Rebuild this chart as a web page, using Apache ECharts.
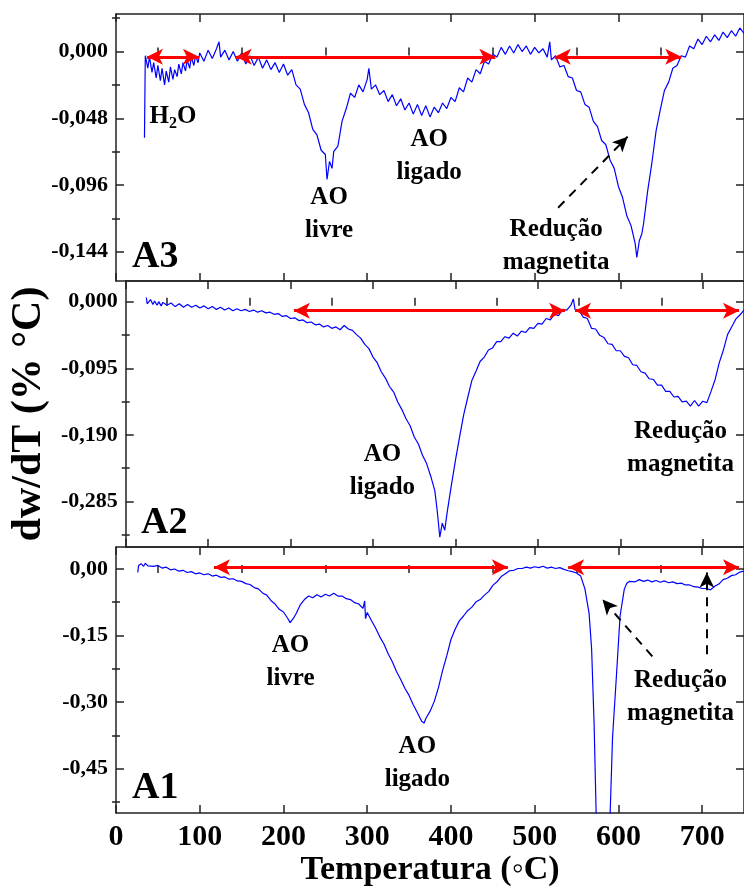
<!DOCTYPE html>
<html>
<head>
<meta charset="utf-8">
<script src="https://cdn.jsdelivr.net/npm/echarts@6/dist/echarts.min.js"></script>
<style>
html,body{margin:0;padding:0;background:#fff;}
#chart{width:744px;height:888px;}
</style>
</head>
<body>
<div id="chart"></div>
<script>
// ---------------- DATA (temperature °C, dw/dT %/°C) ----------------
const curveA3 = [[34,-0.062],[35,-0.003],[38,-0.012],[40,-0.004],[43,-0.015],[45,-0.008],[48,-0.019],[50,-0.010],[53,-0.021],[55,-0.012],[58,-0.024],[60,-0.014],[63,-0.022],[65,-0.011],[68,-0.020],[70,-0.013],[73,-0.018],[75,-0.009],[78,-0.016],[80,-0.008],[83,-0.014],[85,-0.006],[88,-0.012],[90,-0.004],[93,-0.010],[95,-0.003],[98,-0.008],[100,-0.001],[105,-0.007],[110,0.001],[115,-0.005],[120,0.002],[123,0.007],[125,-0.004],[130,0.001],[135,-0.006],[140,0.000],[145,-0.007],[150,-0.001],[155,-0.009],[160,-0.003],[165,-0.010],[170,-0.004],[175,-0.012],[180,-0.006],[185,-0.013],[190,-0.008],[195,-0.015],[200,-0.009],[205,-0.017],[210,-0.013],[215,-0.024],[220,-0.027],[225,-0.038],[230,-0.044],[235,-0.056],[240,-0.060],[245,-0.071],[250,-0.074],[252,-0.092],[255,-0.079],[258,-0.084],[260,-0.072],[265,-0.068],[270,-0.050],[275,-0.041],[280,-0.030],[285,-0.033],[290,-0.024],[295,-0.029],[300,-0.020],[302,-0.012],[305,-0.027],[310,-0.024],[315,-0.031],[320,-0.028],[325,-0.036],[330,-0.031],[335,-0.039],[340,-0.034],[345,-0.042],[350,-0.037],[355,-0.045],[360,-0.038],[365,-0.046],[370,-0.039],[375,-0.047],[380,-0.040],[385,-0.044],[390,-0.037],[395,-0.041],[400,-0.033],[405,-0.036],[410,-0.026],[415,-0.029],[420,-0.019],[425,-0.022],[430,-0.013],[435,-0.016],[440,-0.007],[445,-0.009],[450,-0.002],[455,-0.004],[460,0.003],[465,-0.002],[470,0.004],[475,-0.001],[480,0.005],[485,0.000],[490,0.004],[495,-0.002],[500,0.003],[505,-0.001],[510,0.002],[515,-0.004],[518,0.007],[520,-0.006],[525,-0.003],[530,-0.011],[535,-0.010],[540,-0.018],[545,-0.019],[550,-0.028],[555,-0.029],[560,-0.038],[565,-0.040],[570,-0.050],[575,-0.054],[580,-0.064],[585,-0.067],[590,-0.078],[595,-0.084],[600,-0.097],[605,-0.105],[610,-0.118],[615,-0.125],[620,-0.138],[622,-0.148],[625,-0.136],[628,-0.131],[630,-0.124],[635,-0.100],[640,-0.080],[645,-0.057],[650,-0.042],[655,-0.028],[660,-0.022],[665,-0.012],[670,-0.010],[675,-0.003],[680,-0.004],[685,0.004],[690,0.002],[695,0.009],[700,0.005],[705,0.011],[710,0.007],[715,0.012],[720,0.008],[725,0.014],[730,0.010],[735,0.015],[740,0.011],[745,0.017],[750,0.013]];

const curveA2 = [[25,0.006],[26,-0.003],[30,0.003],[33,-0.004],[35,0.001],[38,-0.005],[40,0.000],[43,-0.006],[45,-0.001],[50,-0.005],[55,-0.002],[60,-0.007],[65,-0.003],[70,-0.008],[75,-0.004],[80,-0.008],[85,-0.005],[90,-0.009],[95,-0.006],[100,-0.010],[105,-0.007],[110,-0.011],[115,-0.008],[120,-0.012],[125,-0.009],[130,-0.013],[135,-0.010],[140,-0.013],[145,-0.011],[150,-0.014],[155,-0.012],[160,-0.015],[165,-0.013],[170,-0.016],[175,-0.015],[180,-0.018],[185,-0.017],[190,-0.021],[195,-0.020],[200,-0.024],[205,-0.023],[210,-0.027],[215,-0.026],[220,-0.030],[225,-0.029],[230,-0.033],[235,-0.032],[240,-0.036],[245,-0.034],[250,-0.038],[255,-0.036],[260,-0.040],[265,-0.034],[270,-0.039],[275,-0.041],[280,-0.047],[285,-0.052],[290,-0.061],[295,-0.067],[300,-0.079],[305,-0.087],[310,-0.100],[315,-0.109],[320,-0.121],[325,-0.129],[330,-0.143],[335,-0.154],[340,-0.167],[345,-0.177],[350,-0.193],[355,-0.203],[360,-0.219],[365,-0.231],[370,-0.249],[375,-0.270],[378,-0.300],[381,-0.336],[384,-0.316],[387,-0.326],[390,-0.300],[395,-0.262],[400,-0.226],[405,-0.193],[410,-0.161],[415,-0.136],[420,-0.112],[425,-0.099],[430,-0.085],[435,-0.079],[440,-0.069],[445,-0.066],[450,-0.057],[455,-0.057],[460,-0.050],[465,-0.052],[470,-0.045],[475,-0.049],[480,-0.042],[485,-0.044],[490,-0.037],[495,-0.038],[500,-0.031],[505,-0.032],[510,-0.024],[515,-0.026],[520,-0.018],[525,-0.020],[530,-0.011],[535,-0.012],[540,-0.005],[543,0.004],[545,-0.011],[550,-0.013],[555,-0.022],[560,-0.024],[565,-0.038],[570,-0.039],[575,-0.048],[580,-0.051],[585,-0.060],[590,-0.061],[595,-0.070],[600,-0.070],[605,-0.078],[610,-0.080],[615,-0.090],[620,-0.091],[625,-0.100],[630,-0.102],[635,-0.110],[640,-0.111],[645,-0.119],[650,-0.119],[655,-0.128],[660,-0.128],[665,-0.136],[670,-0.135],[675,-0.143],[680,-0.142],[685,-0.149],[690,-0.141],[695,-0.149],[700,-0.142],[705,-0.144],[710,-0.128],[715,-0.111],[720,-0.087],[725,-0.069],[730,-0.047],[735,-0.036],[740,-0.025],[745,-0.019],[750,-0.012]];

const curveA1 = [[26,-0.008],[27,0.008],[30,0.012],[33,0.006],[35,0.013],[38,0.007],[40,0.011],[45,0.006],[50,0.008],[55,0.002],[60,0.004],[65,-0.002],[70,0.000],[75,-0.005],[80,-0.003],[85,-0.008],[90,-0.006],[95,-0.011],[100,-0.009],[105,-0.013],[110,-0.011],[115,-0.016],[120,-0.014],[125,-0.019],[130,-0.018],[135,-0.023],[140,-0.022],[145,-0.027],[150,-0.028],[155,-0.033],[160,-0.035],[165,-0.042],[170,-0.045],[175,-0.054],[180,-0.059],[185,-0.071],[190,-0.079],[195,-0.091],[200,-0.097],[205,-0.111],[208,-0.121],[212,-0.111],[215,-0.101],[220,-0.081],[225,-0.069],[230,-0.061],[235,-0.065],[240,-0.058],[245,-0.063],[250,-0.057],[255,-0.061],[260,-0.055],[265,-0.061],[270,-0.061],[275,-0.067],[280,-0.069],[285,-0.076],[290,-0.079],[295,-0.089],[297,-0.072],[298,-0.112],[300,-0.098],[305,-0.116],[310,-0.133],[315,-0.153],[320,-0.169],[325,-0.191],[330,-0.209],[335,-0.231],[340,-0.249],[345,-0.269],[350,-0.285],[355,-0.306],[360,-0.324],[365,-0.343],[368,-0.347],[370,-0.337],[375,-0.321],[380,-0.299],[385,-0.268],[390,-0.229],[395,-0.196],[400,-0.159],[405,-0.136],[410,-0.117],[415,-0.106],[420,-0.094],[425,-0.086],[430,-0.074],[435,-0.069],[440,-0.059],[445,-0.051],[450,-0.037],[455,-0.029],[460,-0.017],[465,-0.011],[470,-0.004],[475,-0.003],[480,0.001],[485,0.001],[490,0.004],[495,0.002],[500,0.005],[505,0.003],[510,0.006],[515,0.002],[520,0.004],[525,0.001],[530,0.003],[535,-0.001],[540,-0.004],[545,-0.006],[550,-0.009],[555,-0.016],[560,-0.045],[565,-0.100],[568,-0.180],[571,-0.350],[574,-0.600],[578,-0.900],[583,-1.000],[587,-0.800],[590,-0.560],[593,-0.380],[598,-0.230],[602,-0.106],[607,-0.046],[610,-0.032],[613,-0.028],[615,-0.025],[620,-0.029],[625,-0.024],[630,-0.028],[635,-0.025],[640,-0.029],[645,-0.026],[650,-0.030],[655,-0.027],[660,-0.031],[665,-0.029],[670,-0.033],[675,-0.032],[680,-0.036],[685,-0.036],[690,-0.040],[695,-0.041],[700,-0.044],[705,-0.044],[710,-0.047],[715,-0.039],[720,-0.034],[725,-0.024],[730,-0.021],[735,-0.015],[740,-0.013],[745,-0.007],[750,-0.005]];

// tick labels
const xTicks = [0,100,200,300,400,500,600,700];
const xMinorTicks = [50,150,250,350,450,550,650];
const yTicksA3 = [0,-0.048,-0.096,-0.144];
const yMinorA3 = [0.024,-0.024,-0.072,-0.120];
const yTicksA2 = [0,-0.095,-0.190,-0.285];
const yMinorA2 = [-0.0475,-0.1425,-0.2375,-0.3325];
const yTicksA1 = [0,-0.15,-0.30,-0.45];
const yMinorA1 = [-0.075,-0.225,-0.375,-0.525];

// annotation ranges (temperature spans of red double arrows)
const spansA3 = [[37,99],[143,453],[524,675]];
const spansA2 = [[204,533],[545,744]];
const spansA1 = [[117,468],[540,744]];

// ---------------- CHART ----------------
const FONT = '"Liberation Serif","Times New Roman",Times,serif';
const AXC = '#222';

const panels = [
  {name:'A3', data:curveA3, top:14,  h:267, min:-0.165, max:0.027, ticks:yTicksA3, minor:yMinorA3, dec:3,
   arrowY:-0.0038, spans:spansA3,
   dashed:[[[528,-0.1123],[611,-0.0612]]],
   notes:[
     {c:[68,-0.047], rich:true},
     {c:[254.5,-0.1166], t:'AO\nlivre'},
     {c:[374,-0.0749], t:'AO\nligado'},
     {c:[525.6,-0.1397], t:'Redução\nmagnetita'}
   ], tag:[46.8,-0.148]},
  {name:'A2', data:curveA2, top:281, h:266, min:-0.350, max:0.0295, ticks:yTicksA2, minor:yMinorA2, dec:3,
   arrowY:-0.0128, spans:spansA2, dashed:[],
   notes:[
     {c:[311.4,-0.2411], t:'AO\nligado'},
     {c:[673,-0.2084], t:'Redução\nmagnetita'}
   ], tag:[46.8,-0.3166]},
  {name:'A1', data:curveA1, top:547, h:267, min:-0.550, max:0.0495, ticks:yTicksA1, minor:yMinorA1, dec:2,
   arrowY:0.0036, spans:spansA1,
   dashed:[[[640.5,-0.197],[581,-0.069]], [[705.6,-0.192],[705.6,-0.008]]],
   notes:[
     {c:[208.4,-0.2107], t:'AO\nlivre'},
     {c:[359.9,-0.4379], t:'AO\nligado'},
     {c:[674.2,-0.2894], t:'Redução\nmagnetita'}
   ], tag:[46.8,-0.493]}
];

const grids = [], xAxes = [], yAxes = [], series = [];
const lineSt = {color:AXC, width:1.5};

panels.forEach((p, i) => {
  grids.push({left:116, width:633.5, top:p.top, height:p.h, containLabel:false});
  const last = i === panels.length - 1;
  const xb = {type:'value', gridIndex:i, min:0, max:750, splitLine:{show:false}, silent:true};
  xAxes.push(Object.assign({}, xb, {
    position:'bottom',
    axisLine:{show:true, onZero:false, lineStyle:lineSt},
    axisTick:{show:true, inside:true, length:8, customValues:xTicks, lineStyle:lineSt},
    axisLabel:{show:last, customValues:xTicks, margin:9, color:'#000', fontFamily:FONT, fontWeight:'bold', fontSize:30},
    name: last ? 'Temperatura (◦C)' : '',
    nameLocation:'middle', nameGap:40,
    nameTextStyle:{color:'#000', fontFamily:FONT, fontWeight:'bold', fontSize:34}
  }));
  xAxes.push(Object.assign({}, xb, {
    position:'bottom', axisLine:{show:false},
    axisTick:{show:true, inside:true, length:4, customValues:xMinorTicks, lineStyle:lineSt},
    axisLabel:{show:false}
  }));
  xAxes.push(Object.assign({}, xb, {
    position:'top',
    axisLine:{show:true, onZero:false, lineStyle:lineSt},
    axisTick:{show:true, inside:true, length:8, customValues:xTicks, lineStyle:lineSt},
    axisLabel:{show:false}
  }));
  xAxes.push(Object.assign({}, xb, {
    position:'top', axisLine:{show:false},
    axisTick:{show:true, inside:true, length:4, customValues:xMinorTicks, lineStyle:lineSt},
    axisLabel:{show:false}
  }));

  const yb = {type:'value', gridIndex:i, min:p.min, max:p.max, splitLine:{show:false}, silent:true};
  yAxes.push(Object.assign({}, yb, {
    position:'left',
    axisLine:{show:true, onZero:false, lineStyle:lineSt},
    axisTick:{show:true, inside:true, length:8, customValues:p.ticks, lineStyle:lineSt},
    axisLabel:{show:true, customValues:p.ticks, margin:8, color:'#000', fontFamily:FONT, fontWeight:'bold', fontSize:22,
      formatter:(v)=> (Math.abs(v) < 1e-9 ? 0 : v).toFixed(p.dec).replace('.', ',')},
    name: i === 1 ? 'dw/dT (% °C)' : '',
    nameLocation:'middle', nameRotate:90, nameGap:63,
    nameTextStyle:{color:'#000', fontFamily:FONT, fontWeight:'bold', fontSize:42}
  }));
  yAxes.push(Object.assign({}, yb, {
    position:'left', axisLine:{show:false},
    axisTick:{show:true, inside:true, length:4, customValues:p.minor, lineStyle:lineSt},
    axisLabel:{show:false}
  }));
  yAxes.push(Object.assign({}, yb, {
    position:'right',
    axisLine:{show:true, onZero:false, lineStyle:lineSt},
    axisTick:{show:true, inside:true, length:8, customValues:p.ticks, lineStyle:lineSt},
    axisLabel:{show:false}
  }));
  yAxes.push(Object.assign({}, yb, {
    position:'right', axisLine:{show:false},
    axisTick:{show:true, inside:true, length:4, customValues:p.minor, lineStyle:lineSt},
    axisLabel:{show:false}
  }));

  const textBase = {color:'#000', fontFamily:FONT, fontWeight:'bold', fontSize:25, lineHeight:33, align:'center'};
  const mpData = p.notes.map(n => {
    if (n.rich) {
      return {coord:n.c, label:{show:true, position:'inside', formatter:'{m|H}{s|2}{m|O}',
        rich:{m:{color:'#000', fontFamily:FONT, fontWeight:'bold', fontSize:25, lineHeight:30},
              s:{color:'#000', fontFamily:FONT, fontWeight:'bold', fontSize:16, lineHeight:12, verticalAlign:'bottom'}}}};
    }
    return {coord:n.c, label:Object.assign({show:true, position:'inside', formatter:n.t}, textBase)};
  });
  mpData.push({coord:p.tag, label:{show:true, position:'inside', formatter:p.name, color:'#000',
    fontFamily:FONT, fontWeight:'bold', fontSize:38}});

  const mlData = [];
  p.spans.forEach(s => {
    mlData.push([
      {coord:[s[0], p.arrowY], symbol:'arrow', symbolSize:[12,16], lineStyle:{color:'#ff0000', width:3, type:'solid'}},
      {coord:[s[1], p.arrowY], symbol:'arrow', symbolSize:[12,16]}
    ]);
  });
  p.dashed.forEach(d => {
    mlData.push([
      {coord:d[0], symbol:'none', lineStyle:{color:'#000', width:2, type:[9,7]}},
      {coord:d[1], symbol:'arrow', symbolSize:[11,15]}
    ]);
  });

  series.push({
    type:'line', name:p.name, xAxisIndex:4*i, yAxisIndex:4*i, data:p.data,
    showSymbol:false, symbol:'none', clip:true, silent:true,
    lineStyle:{color:'#0000ff', width:1.2}, z:3,
    markLine:{silent:true, animation:false, label:{show:false}, symbol:['arrow','arrow'],
      emphasis:{disabled:true}, data:mlData},
    markPoint:{silent:true, animation:false, symbol:'circle', symbolSize:1,
      itemStyle:{color:'rgba(0,0,0,0)'}, emphasis:{disabled:true}, data:mpData}
  });
});

const chart = echarts.init(document.getElementById('chart'), null, {renderer:'canvas', width:744, height:888});
chart.setOption({
  animation:false,
  backgroundColor:'#fff',
  grid:grids, xAxis:xAxes, yAxis:yAxes, series:series
});
</script>
</body>
</html>
